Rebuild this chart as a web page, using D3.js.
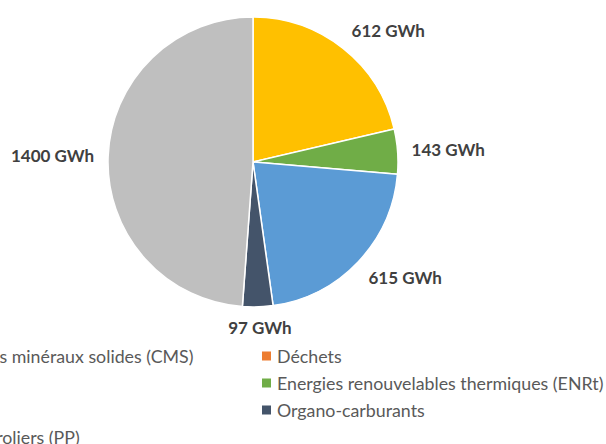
<!DOCTYPE html>
<html>
<head>
<meta charset="utf-8">
<script src="https://cdn.jsdelivr.net/npm/d3@7"></script>
<style>
  html, body { margin: 0; padding: 0; background: #fff; overflow: hidden; }
  svg { display: block; }
</style>
</head>
<body>
<svg id="chart" width="606" height="444"></svg>
<script>
// Consommation d'énergie finale par source (GWh)
const categories = [
  "Combustibles minéraux solides (CMS)",
  "Déchets",
  "Electricité",
  "Energies renouvelables thermiques (ENRt)",
  "Gaz naturel",
  "Organo-carburants",
  "Produits pétroliers (PP)"
];
const values = [0, 0, 612, 143, 615, 97, 1400];
const colors = ["#7F6000", "#ED7D31", "#FFC000", "#70AD47", "#5B9BD5", "#44546A", "#BFBFBF"];
const unit = "GWh";

const width = 606, height = 444;
const cx = 253, cy = 162, radius = 145;

const svg = d3.select("#chart");
const data = categories.map((c, i) => ({ name: c, value: values[i], color: colors[i] }));

const pie = d3.pie().value(d => d.value).sort(null).startAngle(0).endAngle(2 * Math.PI);
const arcs = pie(data).filter(a => a.data.value > 0);
const arc = d3.arc().innerRadius(0).outerRadius(radius);

const g = svg.append("g").attr("transform", `translate(${cx},${cy})`);

g.selectAll("path.slice")
  .data(arcs)
  .join("path")
  .attr("class", "slice")
  .attr("d", arc)
  .attr("fill", d => d.data.color)
  .attr("stroke", "#fff")
  .attr("stroke-width", 1.5)
  .attr("stroke-linejoin", "round");

// Data labels placed just outside each slice, pushed away from the arc
const labelFont = "Lato, 'Open Sans', sans-serif";
const gap = 14, k = 1.6;
const labels = g.selectAll("text.value")
  .data(arcs)
  .join("text")
  .attr("class", "value")
  .attr("font-family", labelFont)
  .attr("font-weight", 700)
  .attr("font-size", 17)
  .attr("fill", "#404040")
  .attr("text-anchor", "middle")
  .attr("dominant-baseline", "central")
  .text(d => `${d.data.value} ${unit}`);

labels.each(function(d) {
  const a = (d.startAngle + d.endAngle) / 2;
  const s = Math.sin(a), c = Math.cos(a);
  const bb = this.getBBox();
  const w = bb.width, h = 13;
  const px = (radius + gap) * s, py = -(radius + gap) * c;
  const ox = Math.sign(s) * Math.min(1, Math.abs(s) * k) * w / 2;
  const oy = -Math.sign(c) * Math.min(1, Math.abs(c) * k) * h / 2;
  d3.select(this).attr("x", px + ox).attr("y", py + oy);
});

// Legend: two columns, filled row by row
const legendCols = [-99, 277];
const legendTop = 356, rowStep = 27, box = 9;
const legend = svg.append("g");
const items = legend.selectAll("g.item")
  .data(data)
  .join("g")
  .attr("class", "item")
  .attr("transform", (d, i) => `translate(${legendCols[i % 2]},${legendTop + Math.floor(i / 2) * rowStep})`);

items.append("rect")
  .attr("x", -15)
  .attr("y", -box / 2)
  .attr("width", box)
  .attr("height", box)
  .attr("fill", d => d.color);

items.append("text")
  .attr("x", 0)
  .attr("y", 0)
  .attr("dominant-baseline", "central")
  .attr("font-family", labelFont)
  .attr("font-size", 17.8)
  .attr("fill", "#595959")
  .text(d => d.name);
</script>
</body>
</html>
